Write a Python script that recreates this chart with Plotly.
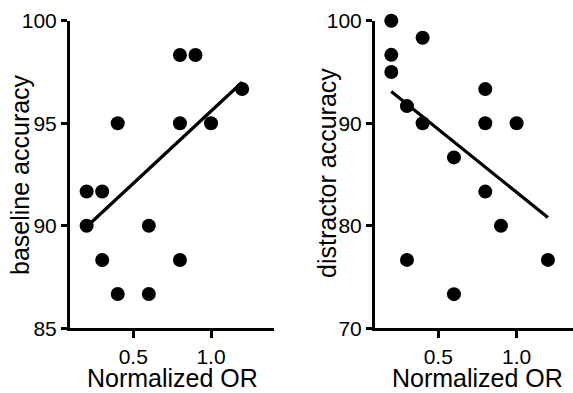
import plotly.graph_objects as go

# Data
left_x = [0.2, 0.3, 0.2, 0.3, 0.4, 0.4, 0.6, 0.6, 0.8, 0.9, 0.8, 0.8, 1.0, 1.2]
left_y = [91.67, 91.67, 90, 88.33, 95, 86.67, 90, 86.67, 98.33, 98.33, 95, 88.33, 95, 96.67]
left_fit_x = [0.2, 1.2]
left_fit_y = [89.95, 97.0]

right_x = [0.2, 0.2, 0.2, 0.4, 0.3, 0.4, 0.6, 0.8, 0.8, 1.0, 0.8, 0.9, 0.3, 0.6, 1.2]
right_y = [100, 96.67, 95, 98.33, 91.67, 90, 86.67, 93.33, 90, 90, 83.33, 80, 76.67, 73.33, 76.67]
right_fit_x = [0.2, 1.2]
right_fit_y = [93.1, 80.8]

x_ticks = [0.5, 1.0]
x_ticktext = ["0.5", "1.0"]
left_y_ticks = [85, 90, 95, 100]
right_y_ticks = [70, 80, 90, 100]

x_title = "Normalized OR"
left_y_title = "baseline accuracy"
right_y_title = "distractor accuracy"

W, H = 573, 393
FONT = "Liberation Sans, Arial, sans-serif"

fig = go.Figure()

marker = dict(color="black", size=14, line=dict(width=0))
fig.add_trace(go.Scatter(x=left_x, y=left_y, mode="markers", marker=marker,
                         xaxis="x", yaxis="y", cliponaxis=False, showlegend=False))
fig.add_trace(go.Scatter(x=left_fit_x, y=left_fit_y, mode="lines",
                         line=dict(color="black", width=3.2),
                         xaxis="x", yaxis="y", cliponaxis=False, showlegend=False))
fig.add_trace(go.Scatter(x=right_x, y=right_y, mode="markers", marker=marker,
                         xaxis="x2", yaxis="y2", cliponaxis=False, showlegend=False))
fig.add_trace(go.Scatter(x=right_fit_x, y=right_fit_y, mode="lines",
                         line=dict(color="black", width=3.2),
                         xaxis="x2", yaxis="y2", cliponaxis=False, showlegend=False))

y_dom = [1 - 328.3 / H, 1 - 20.7 / H]
left_x_dom = [70 / W, 274 / W]
right_x_dom = [375 / W, 1.0]

xaxis_common = dict(
    showgrid=False, zeroline=False, showline=True, linecolor="black", linewidth=3,
    ticks="outside", ticklen=7, tickwidth=2.5, tickcolor="black",
    tickvals=x_ticks, ticktext=x_ticktext, automargin=False,
    tickfont=dict(family=FONT, size=21, color="black"),
)
yaxis_common = dict(
    showgrid=False, zeroline=False, showline=True, linecolor="black", linewidth=3,
    ticks="outside", ticklen=6, tickwidth=2.5, tickcolor="black", automargin=False,
    tickfont=dict(family=FONT, size=21, color="black"),
)

fig.update_layout(
    width=W, height=H,
    margin=dict(l=0, r=0, t=0, b=0, pad=0),
    paper_bgcolor="white", plot_bgcolor="white",
    font=dict(family=FONT, color="black"),
    xaxis=dict(domain=left_x_dom, range=[0.093, 1.405], anchor="y", **xaxis_common),
    yaxis=dict(domain=y_dom, range=[85, 100], anchor="x", tickvals=left_y_ticks, **yaxis_common),
    xaxis2=dict(domain=right_x_dom, range=[0.096, 1.36], anchor="y2", **xaxis_common),
    yaxis2=dict(domain=y_dom, range=[70, 100], anchor="x2", tickvals=right_y_ticks, **yaxis_common),
)

title_font = dict(family=FONT, size=25, color="black")
fig.add_annotation(text=x_title, xref="paper", yref="paper", x=172 / W, y=1 - 378 / H,
                   xanchor="center", yanchor="middle", showarrow=False, font=title_font)
fig.add_annotation(text=x_title, xref="paper", yref="paper", x=477 / W, y=1 - 378 / H,
                   xanchor="center", yanchor="middle", showarrow=False, font=title_font)
fig.add_annotation(text=left_y_title, xref="paper", yref="paper", x=20 / W, y=1 - 175 / H,
                   xanchor="center", yanchor="middle", textangle=-90, showarrow=False, font=title_font)
fig.add_annotation(text=right_y_title, xref="paper", yref="paper", x=327 / W, y=1 - 173 / H,
                   xanchor="center", yanchor="middle", textangle=-90, showarrow=False, font=title_font)

fig.write_html("out.html")
